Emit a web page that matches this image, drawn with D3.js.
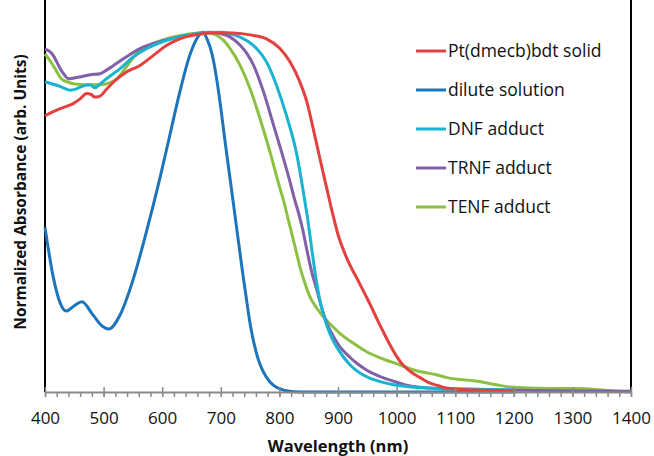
<!DOCTYPE html>
<html>
<head>
<meta charset="utf-8">
<script src="https://cdn.jsdelivr.net/npm/d3@7"></script>
<style>
  body { margin: 0; background: #fff; }
  svg { display: block; font-family: "Open Sans", sans-serif; }
</style>
</head>
<body>
<svg id="chart"></svg>
<script>
// [wavelength nm, normalized absorbance]
const ptSolid = [[400,0.768],[412,0.778],[426,0.788],[438,0.795],[448,0.802],[460,0.815],[471,0.83],[478,0.828],[485,0.82],[494,0.823],[505,0.842],[517,0.862],[539,0.89],[562,0.908],[585,0.936],[608,0.964],[630,0.982],[659,0.994],[690,0.999],[721,0.998],[750,0.993],[778,0.982],[801,0.955],[818,0.918],[835,0.862],[847,0.806],[858,0.73],[869,0.65],[881,0.565],[891,0.495],[900,0.438],[910,0.392],[920,0.354],[932,0.317],[943,0.282],[955,0.243],[966,0.205],[978,0.165],[990,0.127],[1000,0.099],[1011,0.075],[1025,0.055],[1040,0.04],[1055,0.026],[1070,0.018],[1085,0.011],[1120,0.006],[1200,0.003]];
const dilute = [[400,0.458],[414,0.32],[426,0.247],[436,0.225],[450,0.24],[463,0.251],[482,0.214],[498,0.183],[509,0.175],[528,0.214],[551,0.316],[573,0.445],[596,0.594],[613,0.714],[630,0.834],[647,0.936],[660,0.985],[669,1.0],[677,0.98],[685,0.94],[693,0.87],[700,0.79],[707,0.7],[714,0.615],[721,0.53],[730,0.42],[737,0.335],[744,0.255],[750,0.19],[756,0.14],[764,0.09],[772,0.058],[784,0.028],[795,0.013],[810,0.004],[825,0.001],[850,0],[1000,0],[1200,0]];
const dnf = [[400,0.862],[410,0.858],[420,0.853],[432,0.845],[443,0.839],[452,0.842],[460,0.848],[477,0.854],[485,0.846],[495,0.858],[505,0.871],[528,0.899],[551,0.932],[574,0.955],[608,0.978],[642,0.992],[670,0.998],[699,1.0],[716,0.996],[733,0.987],[748,0.973],[761,0.955],[778,0.918],[795,0.853],[812,0.769],[830,0.658],[841,0.555],[849,0.473],[855,0.4],[862,0.32],[869,0.256],[877,0.205],[886,0.163],[897,0.127],[909,0.098],[922,0.073],[938,0.052],[955,0.038],[972,0.029],[995,0.02],[1017,0.015],[1068,0.01],[1130,0.008],[1200,0.006]];
const trnf = [[400,0.953],[407,0.948],[414,0.936],[420,0.918],[426,0.899],[433,0.882],[440,0.871],[450,0.873],[460,0.876],[477,0.882],[494,0.885],[505,0.895],[517,0.908],[539,0.932],[562,0.955],[585,0.969],[619,0.984],[653,0.994],[682,1.0],[710,0.992],[722,0.98],[733,0.964],[745,0.94],[756,0.908],[773,0.834],[790,0.742],[807,0.649],[818,0.585],[826,0.535],[834,0.49],[840,0.45],[847,0.394],[855,0.335],[864,0.283],[872,0.235],[881,0.191],[892,0.155],[903,0.126],[918,0.1],[932,0.08],[950,0.06],[972,0.043],[995,0.03],[1017,0.019],[1068,0.01],[1100,0.008],[1200,0.005],[1300,0.003],[1400,0.002]];
const tenf = [[400,0.94],[407,0.925],[414,0.908],[421,0.888],[428,0.871],[438,0.862],[448,0.857],[471,0.854],[494,0.854],[511,0.86],[520,0.868],[528,0.88],[537,0.9],[545,0.918],[553,0.935],[562,0.95],[585,0.969],[619,0.987],[653,0.997],[670,1.0],[682,0.998],[693,0.992],[705,0.977],[716,0.955],[733,0.908],[750,0.843],[767,0.76],[784,0.667],[801,0.566],[807,0.533],[815,0.48],[821,0.441],[828,0.395],[835,0.348],[843,0.305],[852,0.265],[863,0.235],[875,0.209],[889,0.185],[903,0.163],[925,0.137],[949,0.112],[972,0.095],[1006,0.075],[1028,0.062],[1068,0.048],[1086,0.04],[1142,0.029],[1170,0.02],[1199,0.013],[1256,0.01],[1313,0.01],[1340,0.007],[1358,0.004],[1400,0]];

const seriesNames = ["Pt(dmecb)bdt solid", "dilute solution", "DNF adduct", "TRNF adduct", "TENF adduct"];
const seriesData = [ptSolid, dilute, dnf, trnf, tenf];
const seriesColors = ["#e2413f", "#1c75bc", "#1ab3d0", "#8160a8", "#8cc043"];
const majorTicks = d3.range(400, 1401, 100);
const minorTicks = d3.range(400, 1401, 20);

const width = 654, height = 456;
const margin = { top: 0, right: 23, bottom: 64, left: 45 };

const svg = d3.select("#chart").attr("width", width).attr("height", height);

const x = d3.scaleLinear().domain([400, 1400]).range([margin.left, width - margin.right]);
const y = d3.scaleLinear().domain([0, 1.09]).range([height - margin.bottom, margin.top]);
const y0 = y(0);

// left and right frame lines
svg.append("line").attr("x1", x(400)).attr("x2", x(400))
    .attr("y1", 0).attr("y2", y0).attr("stroke", "#000").attr("stroke-width", 2);
svg.append("line").attr("x1", x(1400)).attr("x2", x(1400))
    .attr("y1", 0).attr("y2", y0).attr("stroke", "#000").attr("stroke-width", 2);

const line = d3.line()
    .x(d => x(d[0]))
    .y(d => y(d[1]))
    .curve(d3.curveMonotoneX);

// draw solid last so order resembles reference
const drawOrder = [1, 4, 3, 2, 0];
drawOrder.forEach(i => {
    svg.append("path")
        .datum(seriesData[i])
        .attr("fill", "none")
        .attr("stroke", seriesColors[i])
        .attr("stroke-width", 3)
        .attr("stroke-linejoin", "round")
        .attr("d", line);
});

// x axis: gray line, minor ticks below, major ticks crossing
const axisColor = "#8a8a8a";
const gx = svg.append("g").attr("transform", `translate(0,${y0})`);

gx.append("g")
    .call(d3.axisBottom(x).tickValues(minorTicks).tickSize(5).tickFormat(""))
    .call(g => g.selectAll("line").attr("stroke", axisColor).attr("stroke-width", 1.5))
    .call(g => g.select(".domain").remove());

gx.append("g")
    .call(d3.axisTop(x).tickValues(majorTicks).tickSize(5).tickFormat(""))
    .call(g => g.selectAll("line").attr("stroke", axisColor).attr("stroke-width", 1.5))
    .call(g => g.select(".domain").remove());

gx.append("g")
    .call(d3.axisBottom(x).tickValues(majorTicks).tickSize(5).tickPadding(15)
        .tickSizeOuter(0).tickFormat(d3.format("d")))
    .call(g => g.selectAll("line").attr("stroke", axisColor).attr("stroke-width", 1.5))
    .call(g => g.select(".domain").attr("stroke", axisColor).attr("stroke-width", 2))
    .call(g => g.selectAll("text")
        .attr("fill", "#111")
        .style("font-family", "'Open Sans', sans-serif")
        .style("font-size", "17px"));

// axis titles
svg.append("text")
    .attr("x", (x(400) + x(1400)) / 2)
    .attr("y", 452)
    .attr("text-anchor", "middle")
    .attr("font-weight", "bold")
    .attr("font-size", 16.5)
    .attr("fill", "#111")
    .text("Wavelength (nm)");

svg.append("text")
    .attr("transform", "translate(26,192) rotate(-90)")
    .attr("text-anchor", "middle")
    .attr("font-weight", "bold")
    .attr("font-size", 15.5)
    .attr("fill", "#111")
    .text("Normalized Absorbance (arb. Units)");

// legend
const legend = svg.append("g").attr("transform", "translate(416,51)");
seriesNames.forEach((name, i) => {
    const row = legend.append("g").attr("transform", `translate(0,${i * 39})`);
    row.append("line").attr("x1", 0).attr("x2", 30).attr("y1", 0).attr("y2", 0)
        .attr("stroke", seriesColors[i]).attr("stroke-width", 3);
    row.append("text").attr("x", 32).attr("y", 0).attr("dy", "0.35em")
        .attr("font-size", 17.5).attr("fill", "#111").text(name);
});
</script>
</body>
</html>
